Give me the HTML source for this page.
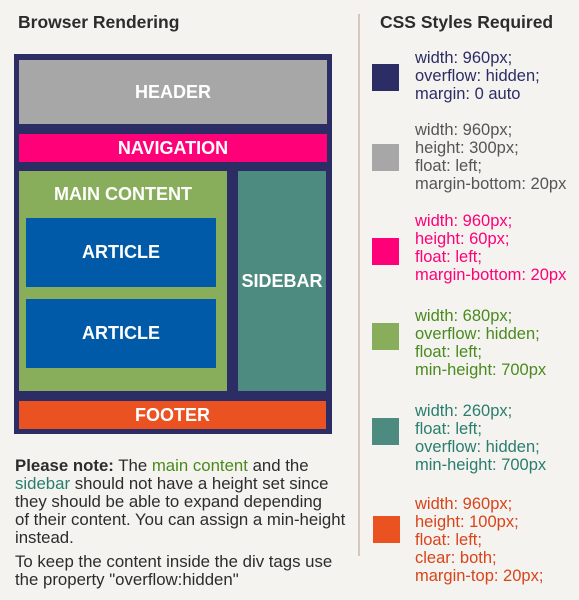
<!DOCTYPE html>
<html><head><meta charset="utf-8"><style>
body{margin:0;width:579px;height:600px;background:#f4f3ef;position:relative;overflow:hidden;font-family:"Liberation Sans",sans-serif}
div{position:absolute;box-sizing:border-box}
.b{color:#fff;font-weight:bold;font-size:18px;display:flex;align-items:center;justify-content:center}
.t{font-size:16.5px;line-height:18px;left:415px;white-space:nowrap}
.s{left:372px;width:27px;height:27px}
.p{left:15px;font-size:16.8px;line-height:18px;color:#2c2c2c;white-space:nowrap}
</style></head><body>
<div style="left:18px;top:12px;font-size:17.5px;font-weight:bold;color:#2c2c2c">Browser Rendering</div>
<div style="left:380px;top:12px;font-size:17.5px;font-weight:bold;color:#2c2c2c">CSS Styles Required</div>
<div style="left:358px;top:14px;width:2px;height:542px;background:#d6c8b4"></div>

<div style="left:14px;top:54px;width:318px;height:380px;background:#2b2d64"></div>
<div class="b" style="left:19px;top:60px;width:308px;height:64px;background:#a6a7a6">HEADER</div>
<div class="b" style="left:19px;top:134px;width:308px;height:28px;background:#ff0078">NAVIGATION</div>
<div style="left:19px;top:171px;width:208px;height:220px;background:#88ae5c"></div>
<div class="b" style="left:19px;top:182px;width:208px;height:24px">MAIN CONTENT</div>
<div class="b" style="left:26px;top:218px;width:190px;height:69px;background:#005aa8">ARTICLE</div>
<div class="b" style="left:26px;top:299px;width:190px;height:69px;background:#005aa8">ARTICLE</div>
<div class="b" style="left:238px;top:171px;width:88px;height:220px;background:#4d8b80">SIDEBAR</div>
<div class="b" style="left:19px;top:401px;width:307px;height:28px;background:#eb5222">FOOTER</div>

<div class="p" style="top:457px"><b>Please note:</b> The <span style="color:#4b8a1e">main content</span> and the<br><span style="color:#2a7d6f">sidebar</span> should not have a height set since<br>they should be able to expand depending<br>of their content. You can assign a min-height<br>instead.</div>
<div class="p" style="top:553px">To keep the content inside the div tags use<br>the property "overflow:hidden"</div>

<div class="s" style="top:64px;background:#2b2d64"></div>
<div class="t" style="top:49px;color:#2b2d64">width: 960px;<br>overflow: hidden;<br>margin: 0 auto</div>
<div class="s" style="top:144px;background:#a6a7a6"></div>
<div class="t" style="top:121px;color:#555">width: 960px;<br>height: 300px;<br>float: left;<br>margin-bottom: 20px</div>
<div class="s" style="top:238px;background:#ff0078"></div>
<div class="t" style="top:212px;color:#ff0078">width: 960px;<br>height: 60px;<br>float: left;<br>margin-bottom: 20px</div>
<div class="s" style="top:323px;background:#88ae5c"></div>
<div class="t" style="top:307px;color:#4b8a1e">width: 680px;<br>overflow: hidden;<br>float: left;<br>min-height: 700px</div>
<div class="s" style="top:418px;background:#4d8b80"></div>
<div class="t" style="top:402px;color:#2a7d6f">width: 260px;<br>float: left;<br>overflow: hidden;<br>min-height: 700px</div>
<div class="s" style="top:516px;left:373px;background:#eb5222"></div>
<div class="t" style="top:495px;color:#d9441a">width: 960px;<br>height: 100px;<br>float: left;<br>clear: both;<br>margin-top: 20px;</div>
</body></html>
